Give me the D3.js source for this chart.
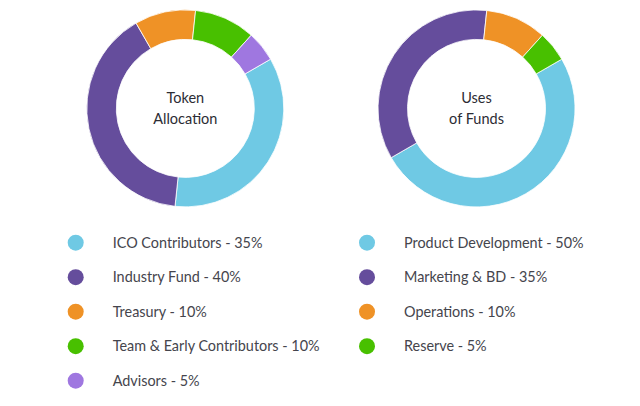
<!DOCTYPE html>
<html>
<head>
<meta charset="utf-8">
<script src="https://d3js.org/d3.v7.min.js"></script>
<style>
  body { margin: 0; background: #fff; }
  text { font-family: Lato, sans-serif; }
  .title { fill: #2c2c34; font-size: 14.5px; }
  .entry { fill: #45454d; font-size: 14.4px; }
</style>
</head>
<body>
<script>
var tokenLabels = ["ICO Contributors", "Industry Fund", "Treasury", "Team & Early Contributors", "Advisors"];
var tokenValues = [35, 40, 10, 10, 5];
var tokenColors = ["#6fc9e4", "#654d9c", "#ef9226", "#48c000", "#9f77e0"];

var fundLabels = ["Product Development", "Marketing & BD", "Operations", "Reserve"];
var fundValues = [50, 35, 10, 5];
var fundColors = ["#6fc9e4", "#654d9c", "#ef9226", "#48c000"];

var svg = d3.select("body").append("svg")
  .attr("width", 640)
  .attr("height", 406)
  .style("display", "block");

function drawDonut(cx, title, labels, values, colors, legendX) {
  var total = d3.sum(values);
  // first slice starts at 2 o'clock on both rings
  var pie = d3.pie().sort(null)
    .startAngle(Math.PI / 3)
    .endAngle(Math.PI / 3 + 2 * Math.PI);
  var arc = d3.arc().innerRadius(69).outerRadius(98.5);

  var g = svg.append("g").attr("transform", "translate(" + cx + ",108.4)");

  g.selectAll("path")
    .data(pie(values))
    .enter().append("path")
    .attr("d", arc)
    .attr("fill", function (d, i) { return colors[i]; })
    .attr("stroke", "#fff")
    .attr("stroke-width", 0.8);

  g.selectAll("text")
    .data(title)
    .enter().append("text")
    .attr("class", "title")
    .attr("text-anchor", "middle")
    .attr("y", function (d, i) { return i * 21 - 5.5; })
    .text(function (d) { return d; });

  var y = d3.scalePoint().domain(d3.range(5)).range([242.7, 380.7]);

  var rows = svg.append("g").selectAll("g")
    .data(labels)
    .enter().append("g")
    .attr("transform", function (d, i) { return "translate(" + legendX + "," + y(i) + ")"; });

  rows.append("circle")
    .attr("r", 8)
    .attr("fill", function (d, i) { return colors[i]; });

  rows.append("text")
    .attr("class", "entry")
    .attr("x", 37)
    .attr("y", 5)
    .text(function (d, i) { return d + " - " + Math.round(values[i] / total * 100) + "%"; });
}

drawDonut(185.3, ["Token", "Allocation"], tokenLabels, tokenValues, tokenColors, 75.7);
drawDonut(476.5, ["Uses", "of Funds"], fundLabels, fundValues, fundColors, 367);
</script>
</body>
</html>
